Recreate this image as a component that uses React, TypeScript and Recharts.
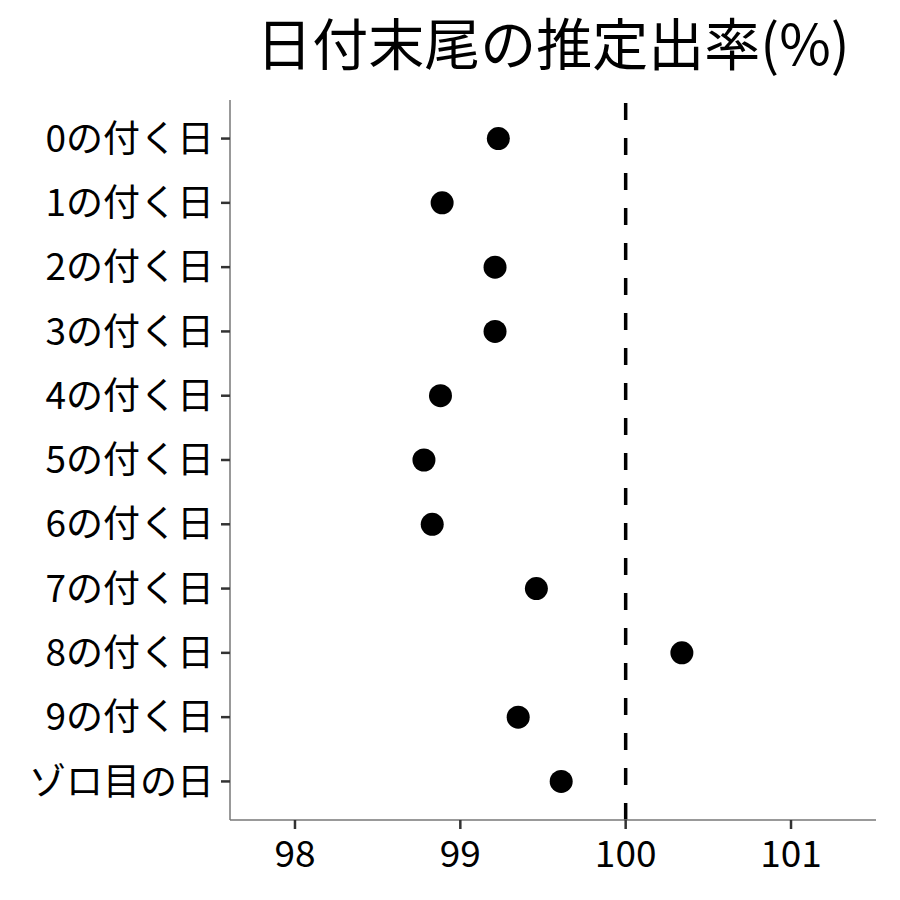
import { ReferenceLine, Scatter, ScatterChart, XAxis, YAxis } from "recharts";

const labels = [
  "0の付く日",
  "1の付く日",
  "2の付く日",
  "3の付く日",
  "4の付く日",
  "5の付く日",
  "6の付く日",
  "7の付く日",
  "8の付く日",
  "9の付く日",
  "ゾロ目の日",
];
const rates = [99.23, 98.89, 99.21, 99.21, 98.88, 98.78, 98.83, 99.46, 100.34, 99.35, 99.61];
const xTicks = [98, 99, 100, 101];
const yTicks = labels.map((_, i) => i);

const data = labels.map((l, i) => ({ idx: i, label: l, rate: rates[i] }));

const FONT = '"Noto Sans CJK JP", "Noto Sans", sans-serif';

export default function App() {
  return (
    <div style={{ position: "absolute", left: 0, top: 0, width: 900, height: 900, background: "#fff", fontFamily: FONT }}>
      <div
        style={{
          position: "absolute",
          left: 230,
          width: 646,
          top: 0,
          fontSize: 56,
          lineHeight: "normal",
          textAlign: "center",
          color: "#000",
        }}
      >
        日付末尾の推定出率(%)
      </div>
      <ScatterChart width={900} height={900} margin={{ top: 100, right: 24, bottom: 0, left: 0 }}>
        <XAxis
          type="number"
          dataKey="rate"
          domain={[97.607, 101.514]}
          ticks={xTicks}
          allowDataOverflow
          height={80}
          axisLine={{ stroke: "#777", strokeWidth: 1.5 }}
          tickLine={{ stroke: "#333", strokeWidth: 2.5 }}
          tickSize={9}
          tickMargin={12}
          tick={{ fontSize: 37, fill: "#000", fontFamily: FONT }}
        />
        <YAxis
          type="number"
          dataKey="idx"
          domain={[-0.6, 10.6]}
          ticks={yTicks}
          reversed
          interval={0}
          width={230}
          tickFormatter={(v: number) => labels[v] ?? ""}
          axisLine={{ stroke: "#777", strokeWidth: 1.5 }}
          tickLine={{ stroke: "#333", strokeWidth: 2.5 }}
          tickSize={9}
          tickMargin={7}
          tick={{ fontSize: 37, fill: "#000", fontFamily: FONT }}
        />
        <ReferenceLine x={100} stroke="#000" strokeWidth={3.5} strokeDasharray="17 18" />
        <Scatter
          data={data}
          isAnimationActive={false}
          shape={(p: any) => <circle cx={p.cx} cy={p.cy} r={11.5} fill="#000" />}
        />
      </ScatterChart>
    </div>
  );
}
